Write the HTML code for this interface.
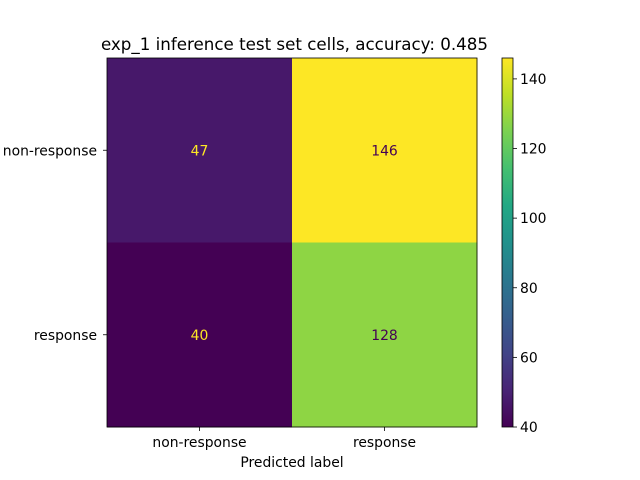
<!DOCTYPE html>
<html><head><meta charset="utf-8"><style>
body{margin:0;background:#fff;}
svg{display:block;font-family:"DejaVu Sans","Liberation Sans",sans-serif;}
</style></head><body>
<svg id="chart" width="640" height="480" viewBox="0 0 640 480">
<defs><linearGradient id="vir" x1="0" y1="1" x2="0" y2="0">
<stop offset="0" stop-color="#440154"/><stop offset="0.1" stop-color="#482475"/><stop offset="0.2" stop-color="#414487"/><stop offset="0.3" stop-color="#355f8d"/><stop offset="0.4" stop-color="#2a788e"/><stop offset="0.5" stop-color="#21918c"/><stop offset="0.6" stop-color="#22a884"/><stop offset="0.7" stop-color="#44bf70"/><stop offset="0.8" stop-color="#7ad151"/><stop offset="0.9" stop-color="#bddf26"/><stop offset="1" stop-color="#fde725"/>
</linearGradient></defs>
<text x="294.5" y="50" font-size="16.7" text-anchor="middle">exp_1 inference test set cells, accuracy: 0.485</text>
<g id="cells"></g>
<rect x="107" y="58" width="370" height="369" fill="none" stroke="#000" stroke-width="0.8"/>
<rect x="502" y="58" width="11" height="369" fill="url(#vir)" stroke="#000" stroke-width="0.8"/>
<g id="axes" font-size="13.9"></g>
<text x="292" y="467" font-size="13.9" text-anchor="middle">Predicted label</text>
</svg>
<script>
const labels = ["non-response","response"];
const values = [[47,146],[40,128]];
const cbTicks = [40,60,80,100,120,140];
const vmin = 40, vmax = 146;
const X0=107, Y0=58, W=370, H=369;
const stops=[[68,1,84],[72,36,117],[65,68,135],[53,95,141],[42,120,142],[33,145,140],[34,168,132],[68,191,112],[122,209,81],[189,223,38],[253,231,37]];
function vir(t){t=Math.max(0,Math.min(1,t))*10;const i=Math.min(9,Math.floor(t)),f=t-i;const a=stops[i],b=stops[i+1];
return `rgb(${a.map((c,k)=>Math.round(c+(b[k]-c)*f)).join(',')})`;}
const ns="http://www.w3.org/2000/svg";
const cells=document.getElementById('cells'), axes=document.getElementById('axes');
function mk(tag,attrs,parent,txt){const e=document.createElementNS(ns,tag);for(const k in attrs)e.setAttribute(k,attrs[k]);if(txt!==undefined)e.textContent=txt;parent.appendChild(e);return e;}
const n=labels.length, cw=W/n, ch=H/n;
function yCb(v){return Y0+H-(v-vmin)/(vmax-vmin)*H;}
values.forEach((row,r)=>row.forEach((v,c)=>{
  const t=(v-vmin)/(vmax-vmin);
  const rc=mk('rect',{x:X0+c*cw,y:Y0+r*ch,width:cw+0.5,height:ch+0.5,fill:vir(t)},cells);
  
  
  const tx=mk('text',{x:X0+(c+0.5)*cw,y:Y0+(r+0.5)*ch+5,'font-size':13.9,'text-anchor':'middle',fill:t<0.5?'#fde725':'#440154'},cells,String(v));
  
  
}));
labels.forEach((l,i)=>{
  const x=X0+(i+0.5)*cw, y=Y0+(i+0.5)*ch;
  mk('line',{x1:x,x2:x,y1:Y0+H,y2:Y0+H+4,stroke:'#000','stroke-width':0.8},axes);
  const xt=mk('text',{x:x,y:Y0+H+20,'text-anchor':'middle'},axes,l);
  
  
  mk('line',{x1:X0-4,x2:X0,y1:y,y2:y,stroke:'#000','stroke-width':0.8},axes);
  const yt=mk('text',{x:X0-10,y:y+5,'text-anchor':'end'},axes,l);
  
  
});
cbTicks.forEach(v=>{
  const y=yCb(v);
  mk('line',{x1:513,x2:517,y1:y,y2:y,stroke:'#000','stroke-width':0.8},axes);
  const t=mk('text',{x:520,y:y+5},axes,String(v));
  
  
});
</script>
</body></html>
